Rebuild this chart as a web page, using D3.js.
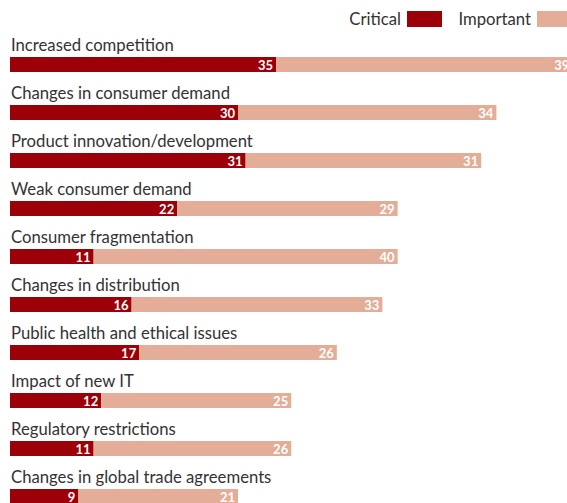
<!DOCTYPE html>
<html>
<head>
<meta charset="utf-8">
<script src="https://cdn.jsdelivr.net/npm/d3@7"></script>
<style>
  body { margin: 0; background: #fff; }
  text { font-family: Lato, 'Open Sans', sans-serif; }
</style>
</head>
<body>
<svg id="chart" width="567" height="503"></svg>
<script>
// Issues rated as critical / important (number of respondents)
const categories = [
  "Increased competition",
  "Changes in consumer demand",
  "Product innovation/development",
  "Weak consumer demand",
  "Consumer fragmentation",
  "Changes in distribution",
  "Public health and ethical issues",
  "Impact of new IT",
  "Regulatory restrictions",
  "Changes in global trade agreements"
];
const critical  = [35, 30, 31, 22, 11, 16, 17, 12, 11, 9];
const important = [39, 34, 31, 29, 40, 33, 26, 25, 26, 21];
const seriesNames = ["Critical", "Important"];
const seriesColors = ["#9c0008", "#e3ad98"];

const W = 567, H = 503;
const svg = d3.select("#chart");

const rows = categories.map((c, i) => ({ name: c, critical: critical[i], important: important[i] }));
const stacked = d3.stack().keys(["critical", "important"])(rows);

const x = d3.scaleLinear().domain([0, 70]).range([10, 542]);
const y = d3.scaleBand().domain(categories).range([24, 24 + 48 * categories.length]);
const barH = 15, barOffset = 33, labelOffset = 27;

// category labels above each bar
svg.append("g").selectAll("text")
  .data(categories)
  .join("text")
  .attr("x", 11)
  .attr("y", d => y(d) + labelOffset)
  .attr("fill", "#333")
  .style("font-size", "16.7px")
  .text(d => d);

// stacked bars
const layers = svg.append("g").selectAll("g")
  .data(stacked)
  .join("g")
  .attr("fill", (d, i) => seriesColors[i]);

layers.selectAll("rect")
  .data(d => d)
  .join("rect")
  .attr("x", d => x(d[0]))
  .attr("y", d => y(d.data.name) + barOffset)
  .attr("width", d => x(d[1]) - x(d[0]))
  .attr("height", barH);

// value labels at the end of each segment
layers.selectAll("text")
  .data(d => d.map(v => ({ v, key: d.key })))
  .join("text")
  .attr("x", d => x(d.v[1]) - 3)
  .attr("y", d => y(d.v.data.name) + barOffset + 12.5)
  .attr("text-anchor", "end")
  .attr("fill", "#fff")
  .style("font-size", "13px")
  .style("font-weight", "bold")
  .text(d => d.v.data[d.key]);

// legend
const legendItems = [
  { name: seriesNames[0], color: seriesColors[0], swatchX: 407 },
  { name: seriesNames[1], color: seriesColors[1], swatchX: 537 }
];
const legend = svg.append("g").selectAll("g").data(legendItems).join("g");
legend.append("rect")
  .attr("x", d => d.swatchX)
  .attr("y", 11)
  .attr("width", 35)
  .attr("height", 16)
  .attr("fill", d => d.color);
legend.append("text")
  .attr("x", d => d.swatchX - 6)
  .attr("y", 25)
  .attr("text-anchor", "end")
  .attr("fill", "#333")
  .style("font-size", "16.7px")
  .text(d => d.name);
</script>
</body>
</html>
